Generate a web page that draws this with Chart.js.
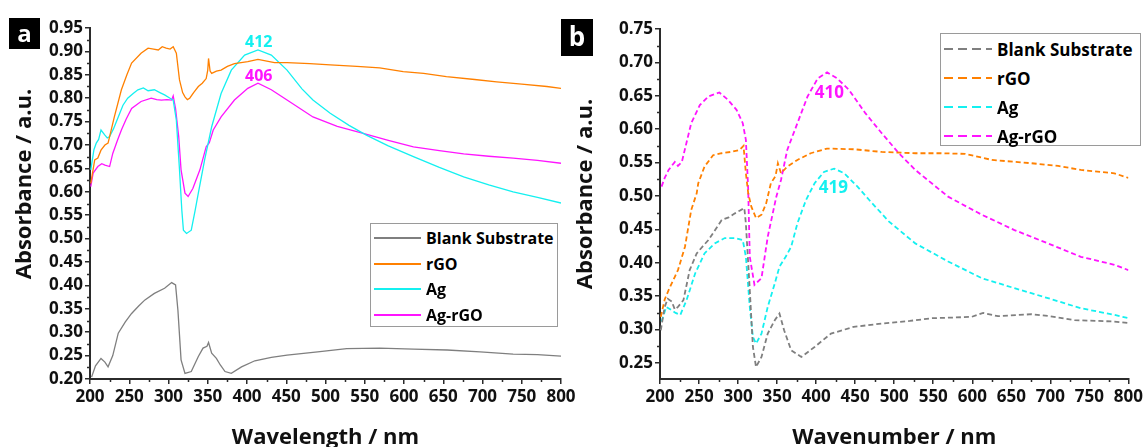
<!DOCTYPE html>
<html>
<head>
<meta charset="utf-8">
<script src="https://cdn.jsdelivr.net/npm/chart.js@4.4.0/dist/chart.umd.min.js"></script>
<style>
  body { margin: 0; width: 1146px; height: 447px; overflow: hidden; background: #fff; font-family: "Open Sans", sans-serif; }
  .wrap { position: absolute; top: 0; }
  #wrapA { left: 0; width: 590px; height: 455px; }
  #wrapB { left: 560px; width: 586px; height: 455px; }
  .tag { position: absolute; background: #000; color: #fff; font-weight: bold; text-align: center; }
  .legend { position: absolute; border: 1px solid #9a9a9a; background: #fff; box-sizing: border-box; }
  .legend .row { position: absolute; left: 0; display: flex; align-items: center; font-weight: bold; color: #000; white-space: nowrap; }
  .legend svg { display: block; }
</style>
</head>
<body>
<div class="wrap" id="wrapA"><canvas id="chartA" width="590" height="455"></canvas></div>
<div class="wrap" id="wrapB"><canvas id="chartB" width="586" height="455"></canvas></div>
<div class="tag" style="left:9px;top:18px;width:31px;height:31px;line-height:30px;font-size:24px;">a</div>
<div class="tag" style="left:561px;top:19px;width:32px;height:37px;line-height:35px;font-size:26px;">b</div>
<div class="legend" id="legendA" style="left:370px;top:223px;width:188px;height:104px;"></div>
<div class="legend" id="legendB" style="left:940px;top:33px;width:201px;height:113px;"></div>
<script>
// series names and colours
const seriesNames = ['Blank Substrate', 'rGO', 'Ag', 'Ag-rGO'];
const seriesColors = ['#7f7f7f', '#ff8000', '#14f0f0', '#ff14ff'];

// panel a - wavelength (nm) / absorbance
const aBlankNm = [202, 207, 214, 219, 223, 229, 236, 245, 253, 262, 270, 282, 295, 304, 309, 312, 316, 321, 329, 338, 344, 349, 351, 355, 361, 366, 372, 380, 393, 410, 431, 451, 490, 527, 569, 612, 655, 697, 739, 770, 800];
const aBlank = [0.204, 0.228, 0.244, 0.236, 0.226, 0.250, 0.298, 0.322, 0.340, 0.356, 0.369, 0.383, 0.394, 0.406, 0.401, 0.347, 0.241, 0.212, 0.216, 0.248, 0.266, 0.270, 0.278, 0.255, 0.244, 0.230, 0.216, 0.212, 0.226, 0.239, 0.246, 0.251, 0.258, 0.265, 0.266, 0.264, 0.262, 0.258, 0.253, 0.252, 0.249];

const aRgoNm = [201, 206, 210, 214, 219, 223, 231, 240, 247, 253, 265, 274, 281, 287, 292, 297, 302, 306, 310, 314, 318, 321, 324, 327, 332, 338, 343, 348, 350, 351, 353, 355, 361, 367, 375, 384, 401, 414, 435, 451, 480, 506, 540, 569, 599, 625, 654, 690, 718, 750, 782, 800];
const aRgo = [0.618, 0.668, 0.672, 0.689, 0.700, 0.704, 0.760, 0.818, 0.850, 0.875, 0.896, 0.907, 0.905, 0.903, 0.910, 0.907, 0.905, 0.910, 0.896, 0.839, 0.812, 0.803, 0.797, 0.800, 0.812, 0.825, 0.832, 0.842, 0.860, 0.885, 0.858, 0.853, 0.858, 0.860, 0.868, 0.874, 0.878, 0.883, 0.876, 0.876, 0.874, 0.871, 0.868, 0.865, 0.857, 0.853, 0.846, 0.840, 0.835, 0.830, 0.825, 0.821];

const aAgNm = [201, 205, 208, 211, 214, 219, 222, 225, 230, 236, 242, 248, 255, 261, 268, 274, 282, 289, 295, 302, 306, 310, 314, 317, 319, 323, 329, 334, 338, 346, 355, 367, 380, 397, 414, 431, 451, 470, 484, 506, 530, 552, 580, 612, 645, 676, 708, 739, 770, 800];
const aAg = [0.647, 0.690, 0.704, 0.712, 0.732, 0.721, 0.715, 0.718, 0.735, 0.760, 0.785, 0.800, 0.810, 0.818, 0.822, 0.816, 0.818, 0.812, 0.807, 0.800, 0.796, 0.753, 0.647, 0.560, 0.518, 0.511, 0.518, 0.561, 0.597, 0.668, 0.739, 0.810, 0.860, 0.892, 0.903, 0.892, 0.860, 0.820, 0.796, 0.768, 0.742, 0.721, 0.698, 0.675, 0.652, 0.632, 0.615, 0.600, 0.588, 0.576];

const aAgRgoNm = [201, 204, 210, 215, 219, 225, 229, 235, 240, 246, 253, 265, 278, 285, 291, 298, 304, 306, 309, 313, 316, 321, 325, 331, 340, 348, 352, 357, 367, 384, 401, 414, 431, 451, 484, 515, 548, 580, 612, 645, 676, 708, 739, 770, 800];
const aAgRgo = [0.611, 0.640, 0.654, 0.660, 0.657, 0.654, 0.682, 0.710, 0.732, 0.755, 0.778, 0.793, 0.800, 0.797, 0.796, 0.797, 0.796, 0.805, 0.778, 0.718, 0.647, 0.597, 0.590, 0.607, 0.647, 0.696, 0.705, 0.732, 0.760, 0.796, 0.821, 0.832, 0.818, 0.796, 0.760, 0.740, 0.725, 0.710, 0.696, 0.688, 0.681, 0.676, 0.672, 0.667, 0.661];

// panel b - wavenumber (nm) / absorbance
const bBlankNm = [201, 206, 210, 215, 219, 223, 230, 238, 247, 255, 262, 270, 279, 288, 296, 302, 308, 310, 315, 319, 323, 330, 338, 347, 353, 359, 368, 381, 398, 419, 448, 484, 520, 548, 575, 599, 614, 633, 676, 700, 731, 760, 782, 800];
const bBlank = [0.299, 0.334, 0.346, 0.342, 0.330, 0.334, 0.344, 0.389, 0.414, 0.425, 0.434, 0.448, 0.464, 0.468, 0.474, 0.478, 0.482, 0.459, 0.359, 0.274, 0.244, 0.259, 0.294, 0.314, 0.324, 0.299, 0.269, 0.259, 0.274, 0.294, 0.304, 0.309, 0.313, 0.317, 0.318, 0.319, 0.325, 0.320, 0.323, 0.320, 0.314, 0.313, 0.312, 0.310];

const bRgoNm = [201, 206, 211, 219, 223, 232, 240, 247, 249, 257, 268, 279, 291, 302, 307, 310, 313, 317, 323, 330, 336, 342, 348, 351, 355, 363, 376, 393, 414, 448, 484, 527, 560, 591, 625, 676, 710, 739, 782, 800];
const bRgo = [0.319, 0.345, 0.359, 0.379, 0.389, 0.424, 0.479, 0.504, 0.519, 0.544, 0.561, 0.564, 0.566, 0.569, 0.575, 0.534, 0.504, 0.484, 0.467, 0.472, 0.489, 0.519, 0.530, 0.549, 0.534, 0.544, 0.554, 0.564, 0.571, 0.570, 0.566, 0.564, 0.564, 0.563, 0.554, 0.549, 0.545, 0.539, 0.534, 0.527];

const bAgNm = [202, 208, 215, 220, 226, 234, 245, 257, 270, 283, 296, 306, 310, 315, 319, 323, 330, 338, 347, 353, 361, 368, 376, 387, 398, 410, 423, 436, 453, 468, 493, 527, 569, 612, 654, 697, 739, 782, 800];
const bAg = [0.312, 0.334, 0.329, 0.325, 0.322, 0.344, 0.384, 0.414, 0.429, 0.437, 0.437, 0.434, 0.409, 0.334, 0.289, 0.279, 0.294, 0.334, 0.369, 0.394, 0.409, 0.424, 0.459, 0.494, 0.519, 0.536, 0.541, 0.534, 0.514, 0.494, 0.462, 0.429, 0.402, 0.377, 0.362, 0.347, 0.332, 0.322, 0.317];

const bAgRgoNm = [202, 206, 211, 219, 223, 228, 234, 240, 251, 262, 276, 287, 298, 306, 310, 313, 315, 321, 330, 338, 349, 355, 363, 376, 389, 402, 414, 427, 442, 463, 484, 506, 527, 569, 612, 654, 697, 739, 782, 800];
const bAgRgo = [0.514, 0.527, 0.539, 0.551, 0.545, 0.551, 0.580, 0.609, 0.636, 0.649, 0.655, 0.644, 0.629, 0.609, 0.584, 0.509, 0.409, 0.367, 0.377, 0.439, 0.499, 0.524, 0.569, 0.609, 0.649, 0.676, 0.685, 0.676, 0.659, 0.624, 0.594, 0.564, 0.539, 0.499, 0.472, 0.449, 0.429, 0.409, 0.397, 0.389];

// peak labels
const aPeaks = [{ text: '412', x: 415, y: 0.920, color: seriesColors[2] }, { text: '406', x: 415, y: 0.847, color: seriesColors[3] }];
const bPeaks = [{ text: '410', x: 417, y: 0.654, color: seriesColors[3] }, { text: '419', x: 422, y: 0.512, color: seriesColors[2] }];

const axisColor = '#2b2b2b';
Chart.defaults.font.family = "'Open Sans', sans-serif";
Chart.defaults.color = '#111';

function toPoints(xs, ys) {
    return xs.map((x, i) => ({ x: x, y: ys[i] }));
}

// minor ticks, peak labels and y title
const extrasPlugin = {
    id: 'extras',
    afterDraw(chart, args, opts) {
        const ctx = chart.ctx;
        const xs = chart.scales.x;
        const ys = chart.scales.y;
        ctx.save();
        ctx.strokeStyle = axisColor;
        ctx.lineWidth = 1.5;
        const xt = xs.ticks.map(t => t.value);
        for (let i = 0; i < xt.length - 1; i++) {
            const px = Math.round(xs.getPixelForValue((xt[i] + xt[i + 1]) / 2)) + 0.5;
            ctx.beginPath();
            ctx.moveTo(px, xs.top);
            ctx.lineTo(px, xs.top + 3);
            ctx.stroke();
        }
        const yt = ys.ticks.map(t => t.value);
        for (let i = 0; i < yt.length - 1; i++) {
            const py = Math.round(ys.getPixelForValue((yt[i] + yt[i + 1]) / 2)) + 0.5;
            ctx.beginPath();
            ctx.moveTo(ys.right - 3, py);
            ctx.lineTo(ys.right, py);
            ctx.stroke();
        }

        ctx.font = 'bold ' + opts.peakSize + 'px "Open Sans"';
        ctx.textAlign = 'center';
        ctx.textBaseline = 'middle';
        opts.peaks.forEach(p => {
            ctx.fillStyle = p.color;
            ctx.fillText(p.text, xs.getPixelForValue(p.x), ys.getPixelForValue(p.y));
        });

        ctx.fillStyle = '#111';
        ctx.font = 'bold 22px "Open Sans"';
        ctx.translate(opts.yTitleX, opts.yTitleY);
        ctx.rotate(-Math.PI / 2);
        ctx.fillText('Absorbance / a.u.', 0, 0);
        ctx.restore();
    }
};

function makeChart(id, datasets, cfg) {
    const ctx = document.getElementById(id).getContext('2d');
    return new Chart(ctx, {
        type: 'line',
        data: { datasets: datasets },
        options: {
            responsive: false,
            animation: false,
            layout: { padding: cfg.padding },
            plugins: {
                legend: { display: false },
                tooltip: { enabled: false },
                extras: { peaks: cfg.peaks, peakSize: cfg.peakSize, yTitleX: cfg.yTitleX, yTitleY: cfg.yTitleY }
            },
            elements: { point: { radius: 0 } },
            scales: {
                x: {
                    type: 'linear',
                    min: 200,
                    max: 800,
                    afterFit: s => { s.height = cfg.xHeight; },
                    ticks: { stepSize: 50, padding: 3, font: { size: 17, weight: 'bold' }, color: '#111', maxRotation: 0 },
                    grid: { drawOnChartArea: false, tickLength: 5, color: axisColor, lineWidth: 1.5 },
                    border: { color: axisColor, width: 2 },
                    title: { display: true, text: cfg.xTitle, font: { size: 22, weight: 'bold' }, color: '#111', padding: { top: 0, bottom: 4 } }
                },
                y: {
                    type: 'linear',
                    min: cfg.yMin,
                    max: cfg.yMax,
                    afterFit: s => { s.width = cfg.yWidth; },
                    ticks: {
                        stepSize: 0.05,
                        includeBounds: false,
                        padding: 2,
                        font: { size: 17, weight: 'bold' },
                        color: '#111',
                        callback: v => v.toFixed(2)
                    },
                    grid: { drawOnChartArea: false, tickLength: 5, color: axisColor, lineWidth: 1.5 },
                    border: { color: axisColor, width: 2 }
                }
            }
        },
        plugins: [extrasPlugin]
    });
}

function buildDatasets(pairs, dashed) {
    return pairs.map((p, i) => ({
        label: seriesNames[i],
        data: toPoints(p[0], p[1]),
        borderColor: seriesColors[i],
        borderWidth: dashed ? 1.8 : 1.3,
        borderDash: dashed ? [5, 3] : [],
        fill: false,
        tension: 0
    }));
}

function buildLegend(id, dashed, rowTop, rowGap, fontSize, sampleW) {
    const box = document.getElementById(id);
    seriesNames.forEach((name, i) => {
        const row = document.createElement('div');
        row.className = 'row';
        row.style.top = (rowTop + i * rowGap - rowGap / 2) + 'px';
        row.style.height = rowGap + 'px';
        row.style.fontSize = fontSize + 'px';
        const dash = dashed ? 'stroke-dasharray="9 5"' : '';
        row.innerHTML = '<svg width="' + (sampleW + 8) + '" height="6"><line x1="3" y1="3" x2="' + (sampleW + 3) + '" y2="3" stroke="' + seriesColors[i] + '" stroke-width="2" ' + dash + '/></svg><span>' + name + '</span>';
        box.appendChild(row);
    });
}

makeChart('chartA', buildDatasets([[aBlankNm, aBlank], [aRgoNm, aRgo], [aAgNm, aAg], [aAgRgoNm, aAgRgo]], false), {
    padding: { top: 28, right: 29, bottom: 0, left: 0 },
    yWidth: 90, xHeight: 76, yMin: 0.2, yMax: 0.95,
    xTitle: 'Wavelength / nm', peaks: aPeaks, peakSize: 16, yTitleX: 25, yTitleY: 184
});
makeChart('chartB', buildDatasets([[bBlankNm, bBlank], [bRgoNm, bRgo], [bAgNm, bAg], [bAgRgoNm, bAgRgo]], true), {
    padding: { top: 29, right: 15, bottom: 0, left: 0 },
    yWidth: 100, xHeight: 76, yMin: 0.226, yMax: 0.75,
    xTitle: 'Wavenumber / nm', peaks: bPeaks, peakSize: 17, yTitleX: 26, yTitleY: 194
});
buildLegend('legendA', false, 14, 25.7, 16, 47);
buildLegend('legendB', true, 15, 29, 17, 48);
</script>
</body>
</html>
